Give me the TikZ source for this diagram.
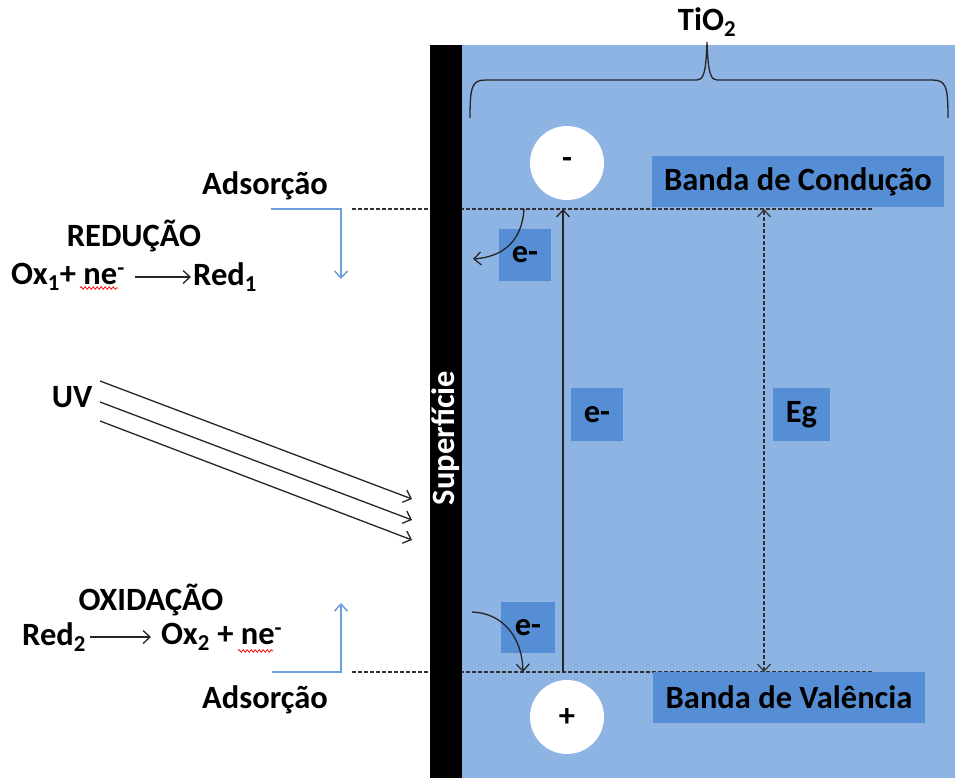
\documentclass[tikz,border=0pt]{standalone}
\usepackage{fontspec}
\setmainfont{Carlito}
\usetikzlibrary{arrows.meta,decorations.pathmorphing}
\definecolor{bgblue}{RGB}{142,180,227}
\definecolor{boxblue}{RGB}{85,142,213}
\definecolor{arrblue}{RGB}{110,158,220}
\definecolor{dashgray}{RGB}{50,50,50}
\begin{document}
\begin{tikzpicture}[x=1pt,y=-1pt,
  lbl/.style={font=\fontsize{32.5}{36}\selectfont\bfseries, inner sep=0pt},
  bluebox/.style={fill=boxblue, inner sep=0pt, font=\fontsize{32.5}{36}\selectfont\bfseries},
  holecircle/.style={circle, fill=white, minimum size=74pt, inner sep=0pt, font=\fontsize{32.5}{36}\selectfont\bfseries},
  arr/.style={-{Straight Barb[length=7pt,width=13pt]}, line width=1.3pt, black!85},
  bluearr/.style={-{Straight Barb[length=7pt,width=13pt]}, line width=1.5pt, arrblue},
  dline/.style={dashgray, line width=1.2pt, dash pattern=on 4pt off 2pt},
  wavy/.style={red, line width=0.7pt, decorate, decoration={snake, amplitude=1.3pt, segment length=4pt}}
]
\useasboundingbox (0,0) rectangle (955,778);
% background crystal
\fill[bgblue] (462,45) rectangle (955,778);
% band edge dashed lines
\coordinate (cbL) at (352,209);
\coordinate (cbR) at (873,209);
\coordinate (vbL) at (352,672);
\coordinate (vbR) at (873,672);
\draw[dline] (cbL) -- (cbR);
\draw[dline] (vbL) -- (vbR);
% surface bar
\fill[black] (430,45) rectangle (462,778);
\node[lbl, text=white, rotate=90] (sup) at (446,438) {Superfície};
% brace
\draw[line width=1.3pt, black!85] (470,118) .. controls (470,86) and (472,80) .. (486,80) -- (697,80)
  .. controls (703,80) and (706,74) .. (707,42) .. controls (708,74) and (711,80) .. (717,80)
  -- (932,80) .. controls (946,80) and (948,86) .. (948,118);
\node[lbl] (tio2) at (707,22) {TiO\textsubscript{2}};
% circles
\node[holecircle] (minus) at (567,163) {-};
\node[holecircle] (plus) at (567,717) {+};
% band boxes
\node[bluebox, minimum width=292pt, minimum height=51pt] (cb) at (798,181.5) {Banda de Condução};
\node[bluebox, minimum width=272pt, minimum height=51pt] (vb) at (789,697.5) {Banda de Valência};
% e- boxes
\node[bluebox, minimum width=52pt, minimum height=52pt] (e1) at (525,255) {e-};
\node[bluebox, minimum width=52pt, minimum height=53pt] (e2) at (597,414.5) {e-};
\node[bluebox, minimum width=57pt, minimum height=53pt] (eg) at (801.5,414.5) {Eg};
\node[bluebox, minimum width=54pt, minimum height=51pt] (e3) at (528,627.5) {e-};
% vertical arrows
\coordinate (exTop) at (563,209);
\coordinate (exBot) at (563,672);
\draw[arr] (exBot) -- (exTop);
\coordinate (egTop) at (764,209);
\coordinate (egBot) at (764,672);
\draw[dline, {Straight Barb[length=7pt,width=13pt]}-{Straight Barb[length=7pt,width=13pt]}] (egBot) -- (egTop);
% curved electron arrows
\coordinate (c1s) at (524,209);
\coordinate (c1e) at (473,259);
\draw[arr] (c1s) .. controls (522,242) and (502,257) .. (c1e);
\coordinate (c2s) at (472,612);
\coordinate (c2e) at (523,672);
\draw[arr] (c2s) .. controls (502,613) and (522,636) .. (c2e);
% left: reduction
\node[lbl] (ads1) at (265,186) {Adsorção};
\coordinate (b1s) at (271,209);
\coordinate (b1c) at (341,209);
\coordinate (b1e) at (341,279);
\draw[bluearr] (b1s) -- (b1c) -- (b1e);
\node[lbl] (redu) at (134,236) {REDUÇÃO};
\node[lbl, anchor=west] (ox1) at (11,277) {Ox\textsubscript{1}+ ne\textsuperscript{-}};
\node[lbl, anchor=west] (red1) at (193,277) {Red\textsubscript{1}};
\draw[arr] ([xshift=10pt]ox1.east) -- ([xshift=-2pt]red1.west);
\coordinate (w1s) at (80,288);
\coordinate (w1e) at (118,288);
\draw[wavy] (w1s) -- (w1e);
% UV
\node[lbl] (uv) at (72,397) {UV};
\coordinate (u1s) at (100,381);
\coordinate (u1e) at (412,499);
\coordinate (u2s) at (100,402);
\coordinate (u2e) at (412,520);
\coordinate (u3s) at (100,421);
\coordinate (u3e) at (412,540);
\draw[arr] (u1s) -- (u1e);
\draw[arr] (u2s) -- (u2e);
\draw[arr] (u3s) -- (u3e);
% left: oxidation
\node[lbl] (oxi) at (151,600) {OXIDAÇÃO};
\node[lbl, anchor=west] (red2) at (22,637) {Red\textsubscript{2}};
\node[lbl, anchor=west] (ox2) at (161,637) {Ox\textsubscript{2} + ne\textsuperscript{-}};
\draw[arr] ([xshift=4pt]red2.east) -- ([xshift=-10pt]ox2.west);
\coordinate (w2s) at (238,651);
\coordinate (w2e) at (273,651);
\draw[wavy] (w2s) -- (w2e);
\coordinate (b2s) at (272,672);
\coordinate (b2c) at (341,672);
\coordinate (b2e) at (341,603);
\draw[bluearr] (b2s) -- (b2c) -- (b2e);
\node[lbl] (ads2) at (265,700) {Adsorção};
\end{tikzpicture}
\end{document}
